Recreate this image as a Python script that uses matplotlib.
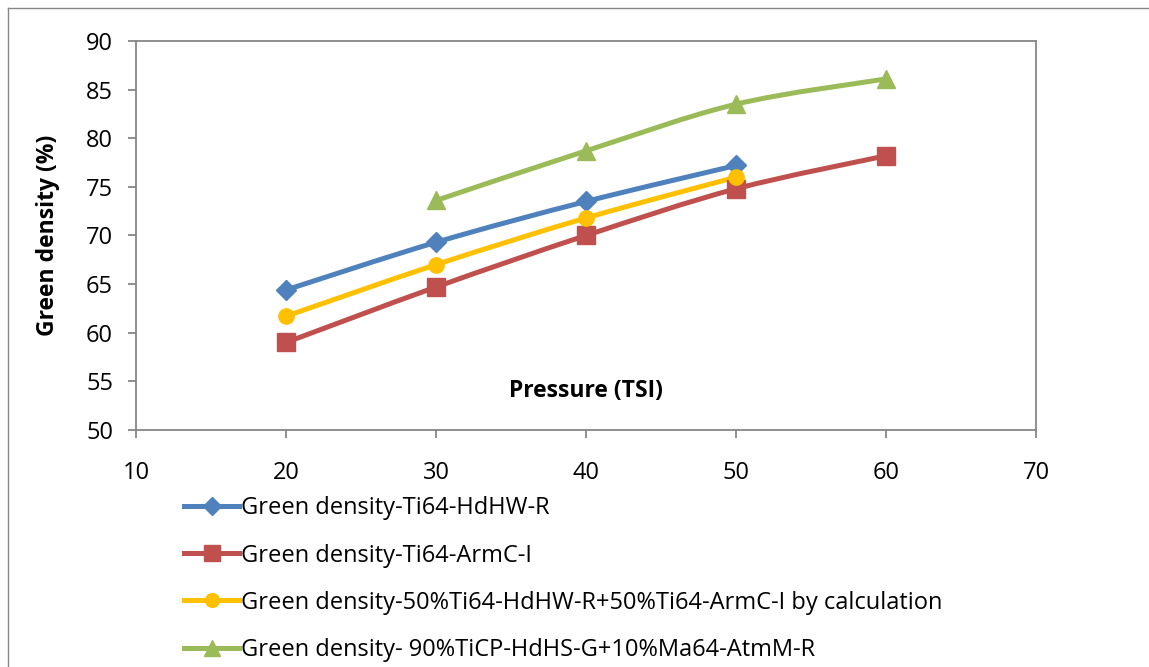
import matplotlib
matplotlib.use("Agg")
import matplotlib.pyplot as plt
import numpy as np
from matplotlib.path import Path
from matplotlib.patches import PathPatch
from matplotlib.lines import Line2D

plt.rcParams['font.family'] = ['Open Sans', 'DejaVu Sans']

# data
pressure = [20, 30, 40, 50, 60]
hdhw = [64.4, 69.3, 73.5, 77.2]
armc = [59.0, 64.7, 70.0, 74.8, 78.2]
blend = [61.7, 67.0, 71.8, 76.0]
ticp = [73.6, 78.7, 83.5, 86.1]
ticp_x = [30, 40, 50, 60]

labels = ["Green density-Ti64-HdHW-R",
          "Green density-Ti64-ArmC-I",
          "Green density-50%Ti64-HdHW-R+50%Ti64-ArmC-I by calculation",
          "Green density- 90%TiCP-HdHS-G+10%Ma64-AtmM-R"]
colors = ["#4F81BD", "#C0504D", "#FFC000", "#9BBB59"]
markers = ["D", "s", "o", "^"]
msizes = [10, 13, 11, 13]

def smooth_path(x, y):
    # excel style smoothed line, drawn as bezier segments
    p = np.column_stack([x, y]).astype(float)
    n = len(p)
    verts = [p[0]]
    codes = [Path.MOVETO]
    for i in range(n - 1):
        p0 = p[i - 1] if i > 0 else p[i]
        p3 = p[i + 2] if i + 2 < n else p[i + 1]
        c1 = p[i] + (p[i + 1] - p0) / 6
        c2 = p[i + 1] - (p3 - p[i]) / 6
        verts += [c1, c2, p[i + 1]]
        codes += [Path.CURVE4] * 3
    return Path(verts, codes)

fig = plt.figure(figsize=(11.49, 6.67), dpi=100)
ax = fig.add_axes([136/1149, 1 - 430/667, 900/1149, 389/667])

series = [(pressure[:4], hdhw), (pressure, armc), (pressure[:4], blend), (ticp_x, ticp)]
for (x, y), c, m, ms in zip(series, colors, markers, msizes):
    ax.add_patch(PathPatch(smooth_path(x, y), facecolor='none', edgecolor=c,
                           lw=3.6, capstyle='round', joinstyle='round', zorder=2))
    ax.plot(x, y, ls='none', marker=m, color=c, ms=ms, zorder=3)

ax.set_xlim(10, 70)
ax.set_ylim(50, 90)
ax.set_xticks(np.arange(10, 71, 10))
ax.set_yticks(np.arange(50, 91, 5))
for s in ax.spines.values():
    s.set_color("#868686")
    s.set_linewidth(1.3)
ax.tick_params(direction='out', length=5.5, width=1.3, color="#868686",
               labelsize=17, pad=11)
ax.tick_params(axis='x', pad=17)

ax.set_ylabel("Green density (%)", fontsize=16.5, fontweight='bold')
ax.yaxis.set_label_coords((60 - 136) / 900, 0.5)
ax.text(0.5, 0.1, "Pressure (TSI)", transform=ax.transAxes, ha='center',
        va='center', fontsize=16.5, fontweight='bold')

handles = [Line2D([], [], color=c, lw=3.6, marker=m, ms=ms * 0.9)
           for c, m, ms in zip(colors, markers, msizes)]
fig.legend(handles, labels, loc='upper left', bbox_to_anchor=(175/1149, 1 - 487/667),
           frameon=False, fontsize=17, handlelength=2.3, handletextpad=0.1,
           labelspacing=0.98, borderaxespad=0)

# outer chart border
fig.add_artist(Line2D([8/1149, 8/1149], [0, 1 - 8/667], color="#868686", lw=1))
fig.add_artist(Line2D([8/1149, 1], [1 - 8/667, 1 - 8/667], color="#868686", lw=1))

fig.savefig("out.png", dpi=100)
